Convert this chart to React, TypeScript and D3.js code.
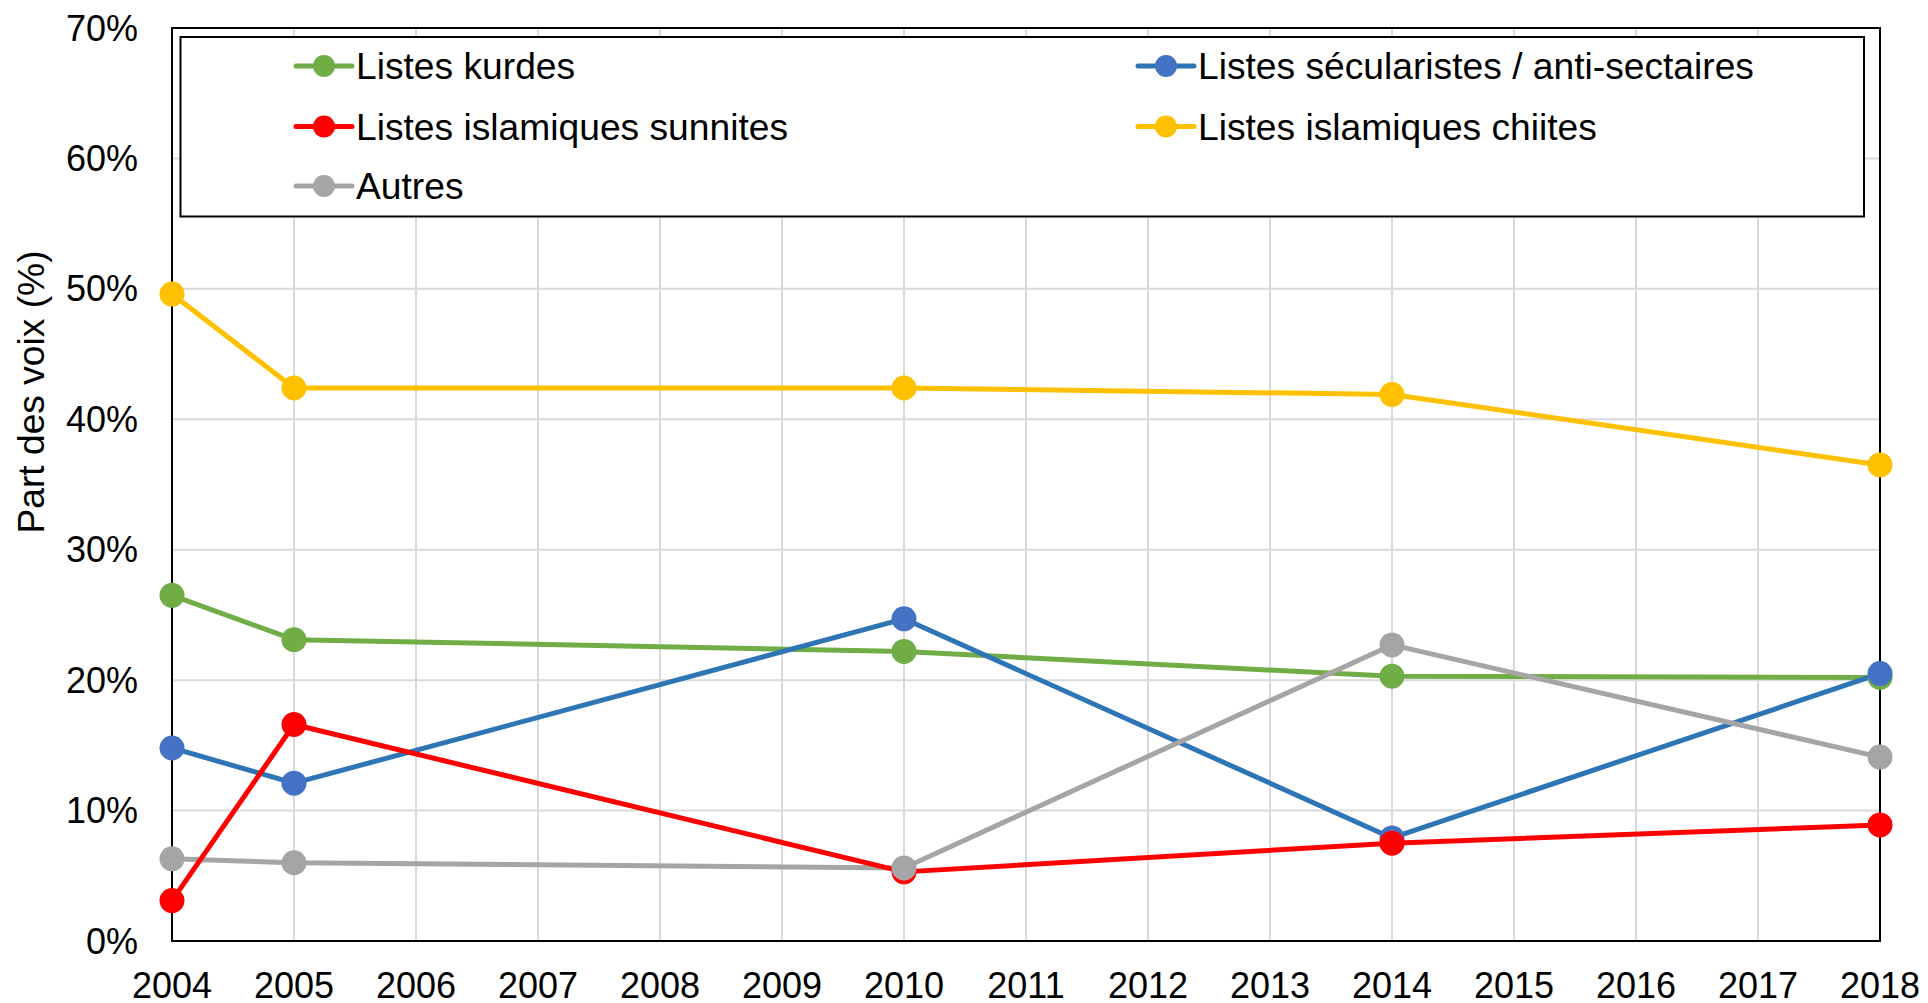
import React from "react";
import * as d3 from "d3";

const years = [2004, 2005, 2010, 2014, 2018];
const xTicks = d3.range(2004, 2019);
const yTicks = [0, 10, 20, 30, 40, 50, 60, 70];

const kurdes = [26.5, 23.1, 22.2, 20.3, 20.2];
const secularistes = [14.8, 12.1, 24.7, 7.9, 20.5];
const sunnites = [3.1, 16.6, 5.3, 7.5, 8.9];
const chiites = [49.6, 42.4, 42.4, 41.9, 36.5];
const autres = [6.3, 6.0, 5.6, 22.7, 14.1];

const seriesNames = [
  "Listes kurdes",
  "Listes sécularistes / anti-sectaires",
  "Listes islamiques sunnites",
  "Listes islamiques chiites",
  "Autres",
];

type S = { name: string; values: number[]; line: string; marker: string };

const series: S[] = [
  { name: seriesNames[0], values: kurdes, line: "#70AD47", marker: "#70AD47" },
  { name: seriesNames[1], values: secularistes, line: "#2E75B6", marker: "#4472C4" },
  { name: seriesNames[2], values: sunnites, line: "#FF0000", marker: "#FF0000" },
  { name: seriesNames[3], values: chiites, line: "#FFC000", marker: "#FFC000" },
  { name: seriesNames[4], values: autres, line: "#A5A5A5", marker: "#A5A5A5" },
];

const lineOrder = [0, 1, 4, 2, 3];
const markerOrder = [0, 1, 2, 4, 3];

export default function App() {
  const W = 1928, H = 1003;
  const left = 172, right = 1880, top = 28, bottom = 941;
  const x = d3.scaleLinear().domain([2004, 2018]).range([left, right]);
  const y = d3.scaleLinear().domain([0, 70]).range([bottom, top]);
  const font = "'Liberation Sans', Arial, sans-serif";
  const fs = 36;
  const fsLeg = 37.2;
  const line = d3
    .line<number>()
    .x((_, i) => x(years[i]))
    .y((v) => y(v));

  const legendItems = [
    { s: series[0], lx: 296, ly: 66 },
    { s: series[1], lx: 1138, ly: 66 },
    { s: series[2], lx: 296, ly: 126.5 },
    { s: series[3], lx: 1138, ly: 126.5 },
    { s: series[4], lx: 296, ly: 186 },
  ];

  return (
    <svg
      width={W}
      height={H}
      style={{ position: "absolute", left: 0, top: 0, background: "#fff" }}
      fontFamily={font}
    >
      <rect x={0} y={0} width={W} height={H} fill="#fff" />
      {xTicks.map((t) => (
        <line key={"gx" + t} x1={x(t)} x2={x(t)} y1={top} y2={bottom} stroke="#D9D9D9" strokeWidth={2} />
      ))}
      {yTicks.map((t) => (
        <line key={"gy" + t} x1={left} x2={right} y1={y(t)} y2={y(t)} stroke="#D9D9D9" strokeWidth={2} />
      ))}
      <rect x={left} y={top} width={right - left} height={bottom - top} fill="none" stroke="#000" strokeWidth={2} />
      {yTicks.map((t) => (
        <text key={"yt" + t} x={138} y={y(t)} dy="0.35em" textAnchor="end" fontSize={fs} fill="#000">
          {t + "%"}
        </text>
      ))}
      {xTicks.map((t) => (
        <text key={"xt" + t} x={x(t)} y={998} textAnchor="middle" fontSize={fs} fill="#000">
          {t}
        </text>
      ))}
      <text
        transform={`translate(44, 392) rotate(-90)`}
        textAnchor="middle"
        fontSize={fsLeg}
        fill="#000"
      >
        Part des voix (%)
      </text>
      {lineOrder.map((i) => (
        <path
          key={"l" + i}
          d={line(series[i].values) || ""}
          fill="none"
          stroke={series[i].line}
          strokeWidth={5}
          strokeLinejoin="round"
        />
      ))}
      {markerOrder.map((i) =>
        series[i].values.map((v, j) => (
          <circle key={"m" + i + "-" + j} cx={x(years[j])} cy={y(v)} r={12.5} fill={series[i].marker} />
        ))
      )}
      <rect x={180.5} y={37} width={1683.5} height={179.5} fill="#fff" stroke="#000" strokeWidth={2} />
      {legendItems.map(({ s, lx, ly }) => (
        <g key={"lg" + s.name}>
          <line x1={lx} x2={lx + 56} y1={ly} y2={ly} stroke={s.line} strokeWidth={5} strokeLinecap="round" />
          <circle cx={lx + 28} cy={ly} r={11} fill={s.marker} />
          <text x={lx + 60} y={ly} dy="0.35em" fontSize={fsLeg} fill="#000">
            {s.name}
          </text>
        </g>
      ))}
    </svg>
  );
}
